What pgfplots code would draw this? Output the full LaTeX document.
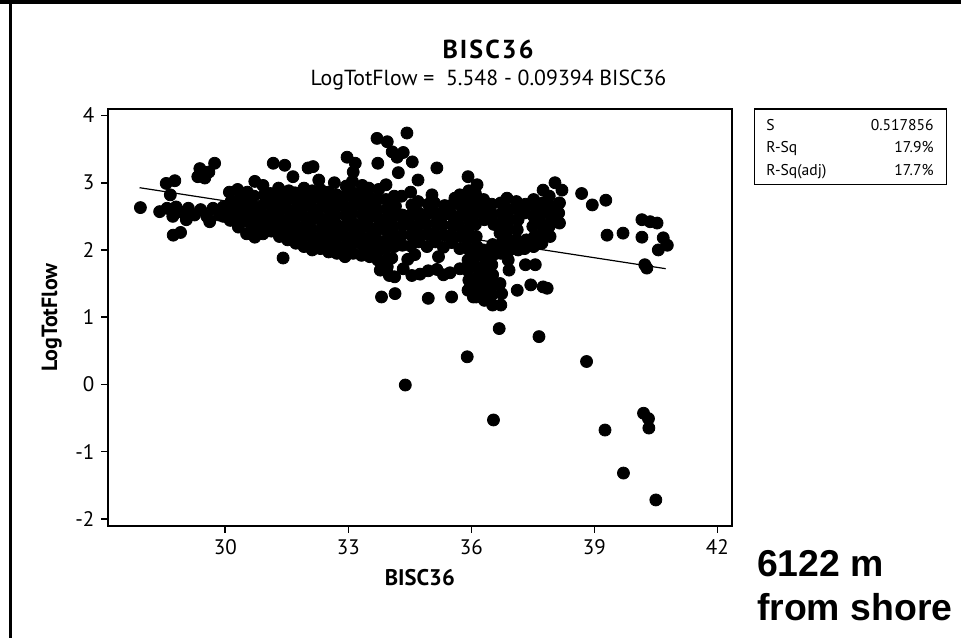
\documentclass[border=0pt]{standalone}
\usepackage{fontspec}
\setmainfont{PT Sans}
\newfontfamily\arialfont{Liberation Sans}
\newfontfamily\titlefont[LetterSpace=8]{PT Sans}
\usepackage{pgfplots}
\pgfplotsset{compat=1.18}
\begin{document}
\begin{tikzpicture}
\begin{scope}[x=0.5pt,y=-0.5pt]
\path[use as bounding box, fill=white] (0,0) rectangle (961,638);
\fill[black] (0,0) rectangle (961,3.5);
\fill[black] (8.5,0) rectangle (11.8,638);
\end{scope}
\begin{axis}[
 at={(54pt,-263pt)}, anchor=south west,
 scale only axis, width=311.85pt, height=208.5pt,
 xmin=27.14, xmax=42.35, ymin=-2.108, ymax=4.097,
 xtick={30,33,36,39,42}, xticklabels={30,33,36,39,42},
 ytick={-2,-1,0,1,2,3,4}, yticklabels={-2,-1,0,1,2,3,4},
 tick align=outside, xtick pos=bottom, ytick pos=left,
 major tick length=3.3pt,
 axis line style={line width=0.8pt},
 every tick/.style={line width=0.8pt, black},
 ticklabel style={font=\fontsize{10.5}{12}\selectfont},
 xlabel={\bfseries BISC36},
 ylabel={\bfseries LogTotFlow},
 xlabel style={at={(axis description cs:0.5,-0.1415)}, anchor=base, font=\fontsize{11.3}{13}\selectfont},
 ylabel style={at={(axis description cs:-0.0903,0.5)}, anchor=center, font=\fontsize{11}{13}\selectfont},
 clip=true,
]
\addplot[only marks, mark=*, mark size=3pt, black] coordinates {
(27.93,2.63) (28.40,2.57) (28.58,2.62) (28.72,2.50) (28.80,2.64) (28.95,2.56) (29.10,2.62) (29.25,2.52) (29.40,2.60) (29.55,2.50) (29.70,2.62) (29.85,2.52) (28.56,2.99) (28.77,3.03) (28.66,2.82) (28.73,2.22) (28.91,2.26) (29.38,3.21) (29.50,3.07) (29.33,3.09) (29.74,3.29) (29.60,3.16) (29.05,2.45) (29.62,2.42)
(29.95,2.50) (29.95,2.64)
(30.12,2.44) (30.12,2.58) (30.14,2.72) (30.10,2.86)
(30.32,2.34) (30.30,2.48) (30.32,2.62) (30.35,2.76) (30.30,2.90)
(30.52,2.24) (30.55,2.42) (30.52,2.57) (30.50,2.72) (30.54,2.86)
(30.72,2.19) (30.70,2.34) (30.74,2.49) (30.72,2.64) (30.70,2.80) (30.72,3.02)
(30.92,2.24) (30.94,2.38) (30.90,2.52) (30.92,2.67) (30.95,2.82) (30.92,2.96)
(31.12,2.28) (31.10,2.42) (31.14,2.56) (31.12,2.70) (31.10,2.84)
(31.32,2.20) (31.34,2.35) (31.30,2.50) (31.32,2.65) (31.35,2.80) (31.30,2.92)
(31.52,2.15) (31.50,2.30) (31.54,2.45) (31.52,2.60) (31.50,2.75) (31.55,2.88)
(31.17,3.29) (31.45,3.26) (31.41,1.88)
(31.72,2.10) (31.74,2.25) (31.70,2.40) (31.72,2.55) (31.75,2.70) (31.70,2.85) (31.65,3.09)
(31.92,2.05) (31.90,2.20) (31.94,2.35) (31.92,2.50) (31.90,2.65) (31.94,2.80) (31.92,2.92)
(32.12,2.00) (32.14,2.15) (32.10,2.30) (32.12,2.45) (32.15,2.60) (32.10,2.75) (32.12,2.88) (32.02,3.22) (32.14,3.24)
(32.32,2.02) (32.30,2.17) (32.34,2.32) (32.32,2.47) (32.30,2.62) (32.34,2.77) (32.32,2.90) (32.28,3.04)
(32.52,1.97) (32.54,2.12) (32.50,2.27) (32.52,2.42) (32.55,2.57) (32.50,2.72) (32.52,2.86)
(32.72,1.95) (32.70,2.08) (32.74,2.22) (32.72,2.37) (32.70,2.52) (32.74,2.67) (32.72,2.82) (32.66,3.00)
(32.92,1.90) (32.94,2.05) (32.90,2.20) (32.92,2.35) (32.95,2.50) (32.90,2.65) (32.92,2.80) (32.95,2.95) (32.97,3.38)
(33.12,1.95) (33.10,2.10) (33.14,2.25) (33.12,2.40) (33.10,2.55) (33.14,2.70) (33.12,2.85) (33.10,3.02) (33.12,3.16) (33.17,3.29)
(33.32,1.92) (33.34,2.07) (33.30,2.22) (33.32,2.37) (33.35,2.52) (33.30,2.67) (33.32,2.82) (33.34,2.96)
(33.52,1.90) (33.50,2.03) (33.54,2.18) (33.52,2.33) (33.50,2.48) (33.54,2.63) (33.52,2.78) (33.50,2.92)
(33.72,1.85) (33.74,2.00) (33.70,2.15) (33.72,2.30) (33.75,2.45) (33.70,2.60) (33.72,2.75) (33.74,2.90) (33.72,3.29) (33.70,3.66)
(33.92,1.85) (33.90,2.02) (33.94,2.15) (33.92,2.30) (33.90,2.45) (33.94,2.60) (33.92,2.75) (33.92,2.97) (33.95,3.61)
(34.12,2.05) (34.14,2.20) (34.10,2.35) (34.12,2.50) (34.15,2.65) (34.12,2.80) (34.07,3.46) (34.22,3.15)
(34.32,2.07) (34.30,2.22) (34.34,2.37) (34.32,2.52) (34.30,2.80) (34.34,3.45)
(34.19,3.38) (34.43,3.74) (34.56,3.31) (34.70,3.04) (35.16,3.22) (35.04,2.82)
(33.78,1.70) (34.13,1.60) (34.34,1.72) (34.75,1.64) (35.16,1.71) (35.48,1.66) (35.72,1.72) (33.95,1.75) (34.55,1.62) (34.95,1.69) (35.32,1.63) (34.0,1.62)
(34.06,1.88) (34.45,1.86) (34.62,1.93) (35.20,1.90)
(33.81,1.30) (34.14,1.35) (34.95,1.28) (35.52,1.30) (36.05,1.30)
(34.52,2.06) (34.54,2.22) (34.50,2.37) (34.52,2.52) (34.55,2.67) (34.52,2.86)
(34.72,2.12) (34.70,2.25) (34.74,2.40) (34.72,2.55) (34.70,2.72)
(34.92,2.05) (34.94,2.23) (34.90,2.38) (34.92,2.53) (34.95,2.68)
(35.12,2.12) (35.10,2.25) (35.14,2.40) (35.12,2.55) (35.10,2.70)
(35.32,2.04) (35.34,2.22) (35.30,2.37) (35.32,2.52) (35.35,2.66)
(35.52,2.11) (35.50,2.22) (35.54,2.37) (35.52,2.52) (35.50,2.66) (35.60,2.77)
(35.72,2.02) (35.74,2.20) (35.70,2.35) (35.72,2.50) (35.75,2.65) (35.72,2.82)
(35.92,1.40) (35.94,1.55) (35.90,1.70) (35.92,1.85) (35.95,2.00) (35.90,2.15) (35.92,2.30) (35.94,2.45) (35.90,2.60) (35.92,2.75) (35.94,2.88) (35.92,3.09)
(36.12,1.30) (36.10,1.45) (36.14,1.60) (36.12,1.75) (36.10,1.90) (36.14,2.05) (36.12,2.20) (36.10,2.38) (36.14,2.55) (36.12,2.70) (36.10,2.84) (36.14,2.97)
(36.32,1.25) (36.34,1.40) (36.30,1.55) (36.32,1.70) (36.35,1.85) (36.30,2.00) (36.32,2.45) (36.34,2.60) (36.30,2.75)
(36.52,1.18) (36.50,1.33) (36.54,1.48) (36.52,1.63) (36.50,1.78) (36.54,1.93) (36.52,2.08) (36.55,2.38) (36.52,2.53) (36.50,2.68)
(36.72,1.18) (36.74,1.35) (36.70,1.50) (36.72,1.95) (36.74,2.10) (36.70,2.25) (36.72,2.40) (36.75,2.55) (36.72,2.70)
(36.92,1.70) (36.90,1.85) (36.94,2.00) (36.92,2.15) (36.90,2.30) (36.94,2.45) (36.92,2.60) (36.87,2.77)
(37.12,1.40) (37.14,2.00) (37.10,2.15) (37.12,2.30) (37.14,2.45) (37.12,2.60) (37.10,2.72)
(37.32,1.78) (37.30,2.02) (37.34,2.15) (37.30,2.55) (37.32,2.68)
(37.45,1.48) (37.56,1.78) (37.52,2.05) (37.54,2.20) (37.50,2.35) (37.52,2.50) (37.54,2.65) (37.52,2.75)
(37.75,1.45) (37.72,2.10) (37.74,2.25) (37.70,2.40) (37.72,2.55) (37.74,2.70) (37.75,2.89)
(37.85,1.43) (37.92,2.20) (37.90,2.35) (37.94,2.50) (37.92,2.65) (37.90,2.80) (38.04,3.00)
(38.15,2.40) (38.13,2.55) (38.15,2.70) (38.21,2.89)
(38.69,2.84) (38.95,2.67) (39.28,2.74) (39.31,2.22) (39.70,2.25) (40.16,2.19) (40.16,2.45) (40.36,2.42) (40.53,2.40) (40.68,2.18) (40.78,2.07) (40.56,2.00) (40.23,1.78) (40.28,1.73)
(34.39,-0.01) (35.90,0.41) (36.68,0.83) (37.65,0.71) (38.81,0.34) (36.54,-0.53) (40.20,-0.43) (40.32,-0.51) (40.33,-0.65) (39.26,-0.68) (39.71,-1.32) (40.50,-1.72)
};
\addplot[black, line width=0.6pt] coordinates {(27.91,2.926) (40.74,1.721)};
\end{axis}
\begin{scope}[x=0.5pt,y=-0.5pt]
\node[anchor=base, font=\titlefont\bfseries\fontsize{13}{15}\selectfont, inner sep=0pt] at (488,58.3) {BISC36};
\node[anchor=base, font=\fontsize{10.9}{12}\selectfont, inner sep=0pt] at (488.5,85) {LogTotFlow =\ \ 5.548 - 0.09394 BISC36};
\draw[line width=0.6pt] (754.3,109) rectangle (946.7,184.3);
\begin{scope}[every node/.style={font=\fontsize{7.8}{9}\selectfont, inner sep=0pt}]
\node[anchor=base west] at (766,130) {S};
\node[anchor=base west] at (766,152.5) {R-Sq};
\node[anchor=base west] at (766,175) {R-Sq(adj)};
\node[anchor=base east] at (934,130) {0.517856};
\node[anchor=base east] at (934,152.5) {17.9\%};
\node[anchor=base east] at (934,175) {17.7\%};
\end{scope}
\node[anchor=base west, font=\arialfont\bfseries\fontsize{18.7}{22}\selectfont, inner sep=0pt] at (756.7,576.7) {6122 m};
\node[anchor=base west, font=\arialfont\bfseries\fontsize{18.7}{22}\selectfont, inner sep=0pt] at (756.7,620) {from shore};
\end{scope}
\end{tikzpicture}
\end{document}
